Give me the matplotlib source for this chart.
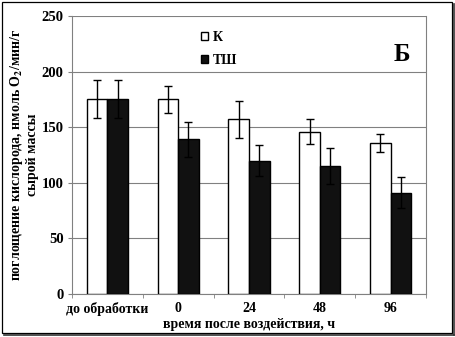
import numpy as np
import matplotlib.pyplot as plt
from matplotlib.patches import Rectangle

plt.rcParams['font.family'] = ['Liberation Serif', 'DejaVu Serif']
plt.rcParams['font.weight'] = 'bold'
plt.rcParams['axes.labelweight'] = 'bold'
plt.rcParams['mathtext.fontset'] = 'stix'
plt.rcParams['mathtext.default'] = 'bf'

categories = ['до обработки', '0', '24', '48', '96']
k_vals = [175, 175, 157, 146, 136]
k_err = [17, 12, 17, 11, 8]
tsh_vals = [175, 139, 120, 115, 91]
tsh_err = [17, 16, 14, 16, 14]

fig = plt.figure(figsize=(4.56, 3.37), dpi=100)
ax = fig.add_axes([72 / 456, 43 / 337, 354 / 456, 278 / 337])

x = np.arange(len(categories))
w = 0.29
ekw = dict(ecolor='black', elinewidth=1.0, capsize=3, capthick=1.0)
ax.bar(x - w / 2, k_vals, w, yerr=k_err, color='white', edgecolor='black',
       linewidth=1.0, error_kw=ekw, label='К', zorder=3)
ax.bar(x + w / 2, tsh_vals, w, yerr=tsh_err, color='#111111', edgecolor='black',
       linewidth=1.0, error_kw=ekw, label='ТШ', zorder=3)

ax.set_xlim(-0.5, len(categories) - 0.5)
ax.set_ylim(0, 250)
ax.set_yticks(range(0, 251, 50))
ax.yaxis.grid(True, color='#808080', linewidth=0.8)
ax.set_axisbelow(True)

ax.set_xticks(x)
ax.set_xticklabels(categories, fontsize=10)
ax.set_xticks(np.arange(-0.5, len(categories)), minor=True)
ax.tick_params(axis='x', which='major', length=0, pad=6)
ax.tick_params(axis='x', which='minor', length=3, color='#808080', direction='out')
ax.tick_params(axis='y', labelsize=10.5, length=3, color='#808080', pad=3)

for s in ['left', 'bottom', 'right']:
    ax.spines[s].set_color('#808080')
ax.spines['top'].set_visible(False)

ax.set_xlabel('время после воздействия, ч', fontsize=10, labelpad=1)
ax.set_ylabel('поглощение кислорода, нмоль O$_2$/мин/г\nсырой массы',
              fontsize=10, labelpad=2, linespacing=1.05)

ax.legend(loc='upper left', bbox_to_anchor=(0.33, 0.99), frameon=False,
          fontsize=10, handlelength=0.5, handleheight=0.5, handletextpad=0.3,
          labelspacing=0.7)
ax.text(0.955, 0.86, 'Б', transform=ax.transAxes, fontsize=18,
        fontweight='bold', ha='right', va='center')

# outer frame with a thin shadow on the right and bottom
fig.patches.append(Rectangle((2 / 456, 4 / 337), 450 / 456, 331 / 337,
                             transform=fig.transFigure, fill=False,
                             edgecolor='black', linewidth=0.9))
fig.lines.append(plt.Line2D([454 / 456, 454 / 456], [2 / 337, 333 / 337],
                            transform=fig.transFigure, color='#333333', linewidth=1.2))
fig.lines.append(plt.Line2D([4 / 456, 454 / 456], [2 / 337, 2 / 337],
                            transform=fig.transFigure, color='#333333', linewidth=1.2))

fig.savefig('out.png', dpi=100)
